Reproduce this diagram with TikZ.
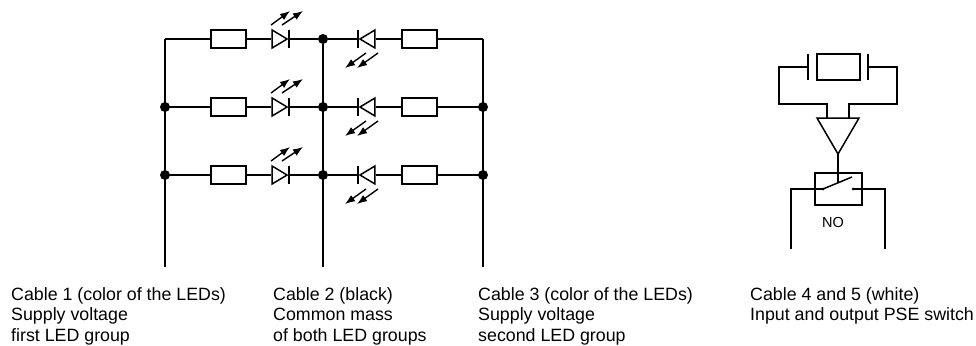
\documentclass[tikz,border=0pt]{standalone}
\usepackage{fontspec}
\setmainfont{Liberation Sans}
\usepackage{tikz}
\usetikzlibrary{arrows.meta,shapes}
\tikzstyle{wire} = [draw,line width=1.5pt,-]
\tikzstyle{resistor} = [rectangle,draw,line width=1.5pt,fill=white,minimum width=35pt,minimum height=18pt,inner sep=0pt]
\tikzstyle{junction} = [circle,fill=black,minimum size=10pt,inner sep=0pt]
\tikzstyle{contact} = [circle,fill=black,minimum size=3pt,inner sep=0pt]
\tikzstyle{diode} = [isosceles triangle,isosceles triangle stretches,draw,line width=1.5pt,fill=white,minimum width=18pt,minimum height=15pt,inner sep=0pt,anchor=apex]
\tikzstyle{light} = [draw,line width=1.4pt,-{Latex[length=10pt,width=7.5pt]}]
\tikzstyle{caption} = [anchor=north west,align=left,font=\fontsize{17.8}{20.6}\selectfont,inner sep=0pt]

\begin{document}
\begin{tikzpicture}[x=1pt,y=-1pt]
    \useasboundingbox (0,0) rectangle (976,345);
    % The three LED rows
    \foreach \row/\y in {a/39, b/107, c/175} {
        \coordinate (L\row) at (165,\y);
        \coordinate (R\row) at (483,\y);
        \node[junction] (M\row) at (323,\y) {};
        \node[resistor] (RL\row) at (228.5,\y) {};
        \node[resistor] (RR\row) at (419.5,\y) {};
        \node[diode] (DL\row) at (289,\y) {};
        \node[diode,shape border rotate=180] (DR\row) at (358,\y) {};
        % bars and light arrows of the diodes
        \path[wire] (DL\row.apex) ++(0,-9) -- ++(0,18);
        \path[wire] (DR\row.apex) ++(0,-9) -- ++(0,18);
        \path[light] (DL\row.apex) ++(-18,-14) -- ++(19,-14);
        \path[light] (DL\row.apex) ++(-7,-14) -- ++(21,-14);
        \path[light] (DR\row.apex) ++(20,14) -- ++(-21,15);
        \path[light] (DR\row.apex) ++(8,14) -- ++(-21,15);
        % wires of the row
        \path[wire] (L\row) -- (RL\row);
        \path[wire] (RL\row) -- (DL\row.west);
        \path[wire] (DL\row.apex) -- (M\row);
        \path[wire] (M\row) -- (DR\row.apex);
        \path[wire] (DR\row.east) -- (RR\row);
        \path[wire] (RR\row) -- (R\row);
    }
    \foreach \row in {b, c} {
        \node[junction] (JL\row) at (L\row) {};
        \node[junction] (JR\row) at (R\row) {};
    }
    % Cables leaving downwards
    \coordinate (Lend) at (165,267);
    \coordinate (Mend) at (323,267);
    \coordinate (Rend) at (483,267);
    \path[wire] (La) -- (Lend);
    \path[wire] (Ma) -- (Mend);
    \path[wire] (Ra) -- (Rend);
    % Sensor with amplifier
    \node[rectangle,draw,line width=1.5pt,minimum width=43pt,minimum height=26pt,inner sep=0pt] (crystal) at (838.5,67) {};
    \coordinate (plateL) at (808,67);
    \coordinate (plateR) at (868,67);
    \path[wire] (plateL) ++(0,-13) -- ++(0,26);
    \path[wire] (plateR) ++(0,-13) -- ++(0,26);
    \coordinate (ampL) at (827,118);
    \coordinate (ampR) at (849,118);
    \coordinate (ampTL) at (817,118);
    \coordinate (ampTR) at (859,118);
    \coordinate (ampOut) at (838,154);
    \path[wire] (ampTL) -- (ampTR) -- (ampOut) -- cycle;
    \path[wire] (plateL) -- (779,67) -- (779,104) -- (827,104) -- (ampL);
    \path[wire] (plateR) -- (897,67) -- (897,104) -- (849,104) -- (ampR);
    % Switch
    \node[rectangle,draw,line width=1.5pt,minimum width=47pt,minimum height=32pt,inner sep=0pt] (switchbox) at (838.5,189) {};
    \node[contact] (contactL) at (823,189) {};
    \node[contact] (contactR) at (853,189) {};
    \coordinate (armEnd) at (852,177);
    \coordinate (armMid) at (838,183);
    \path[wire] (ampOut) -- (armMid);
    \path[wire] (contactL.center) -- (armEnd);
    \path[wire] (contactL.center) -- (791,189) -- (791,249);
    \path[wire] (contactR.center) -- (885,189) -- (885,249);
    \node[font=\fontsize{14.5}{16}\selectfont] (nolabel) at (833,223) {NO};
    % Captions
    \node[caption] (cable1) at (11,287) {Cable 1 (color of the LEDs)\\Supply voltage\\first LED group};
    \node[caption] (cable2) at (273,287) {Cable 2 (black)\\Common mass\\of both LED groups};
    \node[caption] (cable3) at (478,287) {Cable 3 (color of the LEDs)\\Supply voltage\\second LED group};
    \node[caption] (cable45) at (750,287) {Cable 4 and 5 (white)\\Input and output PSE switch};
\end{tikzpicture}
\end{document}
